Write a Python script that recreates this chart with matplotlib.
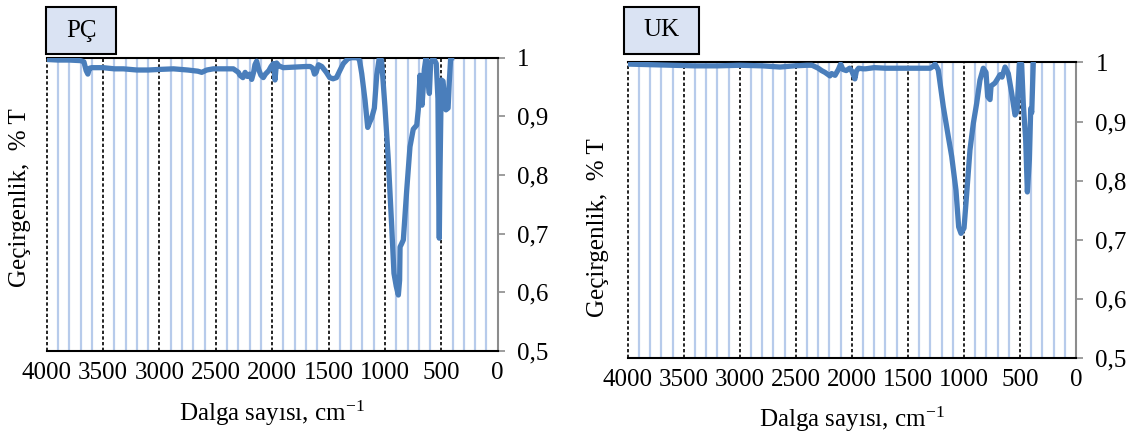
import matplotlib
matplotlib.use("Agg")
import matplotlib.pyplot as plt
from matplotlib.patches import Rectangle

# FTIR spectra
wn_pc = [4000, 3900, 3800, 3700, 3670, 3650, 3635, 3620, 3600, 3500, 3400, 3320,
         3200, 3100, 3000, 2876, 2750, 2660, 2625, 2580, 2522, 2400, 2345, 2300,
         2286, 2260, 2240, 2220, 2200, 2182, 2165, 2153, 2138, 2120, 2100, 2079,
         2060, 2030, 2010, 1990, 1980, 1975, 1968, 1961, 1940, 1902, 1800, 1700,
         1663, 1640, 1625, 1610, 1590, 1560, 1520, 1490, 1460, 1430, 1400, 1369,
         1330, 1300, 1240, 1225, 1206, 1177, 1153, 1135, 1118, 1094, 1073, 1050,
         1035, 1029, 1000, 970, 940, 920, 900, 881, 870, 866, 851, 837, 807, 778,
         749, 718, 704, 689, 680, 671, 660, 651, 636, 625, 606, 595, 571, 545,
         530, 522, 518, 512, 500, 485, 470, 459, 440, 429, 417, 408]
t_pc = [0.997, 0.996, 0.996, 0.995, 0.993, 0.978, 0.972, 0.982, 0.983, 0.983, 0.981, 0.981,
        0.979, 0.979, 0.980, 0.981, 0.979, 0.977, 0.975, 0.979, 0.981, 0.981, 0.981, 0.975,
        0.970, 0.966, 0.975, 0.968, 0.972, 0.963, 0.975, 0.988, 0.994, 0.980, 0.970, 0.966,
        0.972, 0.978, 0.985, 0.990, 0.975, 0.962, 0.978, 0.991, 0.986, 0.983, 0.984, 0.985,
        0.985, 0.982, 0.972, 0.975, 0.988, 0.985, 0.975, 0.966, 0.964, 0.966, 0.978, 0.990,
        0.998, 1.000, 1.000, 0.995, 0.973, 0.928, 0.881, 0.890, 0.897, 0.914, 0.970, 1.000,
        0.998, 0.993, 0.916, 0.825, 0.712, 0.632, 0.610, 0.595, 0.620, 0.677, 0.683, 0.689, 0.774, 0.848,
        0.878, 0.885, 0.912, 0.970, 0.940, 0.919, 0.950, 0.980, 1.000, 0.970, 0.939, 0.990, 1.000, 0.990,
        0.930, 0.750, 0.692, 0.800, 0.962, 0.960, 0.930, 0.911, 0.914, 0.960, 1.000, 1.000]

wn_uk = [4000, 3800, 3600, 3400, 3200, 3000, 2800, 2641, 2514, 2400, 2355, 2300,
         2270, 2240, 2210, 2196, 2180, 2150, 2120, 2100, 2080, 2050, 2020, 2000,
         1985, 1973, 1960, 1940, 1900, 1877, 1800, 1700, 1600, 1500, 1400, 1300,
         1276, 1258, 1229, 1184, 1139, 1109, 1071, 1047, 1026, 999, 975, 946,
         916, 886, 857, 827, 803, 788, 767, 758, 723, 700, 678, 660, 633, 604,
         574, 544, 526, 506, 485, 470, 449, 434, 416, 404, 395, 381]
t_uk = [0.997, 0.996, 0.995, 0.994, 0.994, 0.995, 0.994, 0.992, 0.994, 0.995, 0.995, 0.990,
        0.986, 0.983, 0.979, 0.977, 0.981, 0.978, 0.988, 0.997, 0.988, 0.986, 0.990, 0.985,
        0.978, 0.972, 0.985, 0.990, 0.989, 0.989, 0.991, 0.990, 0.990, 0.990, 0.990, 0.990,
        0.993, 0.997, 0.987, 0.925, 0.874, 0.841, 0.784, 0.722, 0.711, 0.720, 0.779, 0.852,
        0.897, 0.931, 0.970, 0.990, 0.983, 0.942, 0.937, 0.960, 0.965, 0.972, 0.979, 0.975, 0.992, 0.981,
        0.948, 0.911, 0.917, 0.997, 0.997, 0.929, 0.869, 0.781, 0.836, 0.922, 0.915, 1.000]

x_ticks = [4000, 3500, 3000, 2500, 2000, 1500, 1000, 500, 0]
y_ticks = [0.5, 0.6, 0.7, 0.8, 0.9, 1.0]
y_labels = ["0,5", "0,6", "0,7", "0,8", "0,9", "1"]

plt.rcParams["font.family"] = ["Liberation Serif", "DejaVu Serif"]
plt.rcParams["mathtext.fontset"] = "custom"
plt.rcParams["mathtext.rm"] = "Liberation Serif"
plt.rcParams["mathtext.it"] = "Liberation Serif:italic"

W, H = 1139, 436
FS = 18
fig = plt.figure(figsize=(W / 100, H / 100), dpi=100)


def panel(rect, wn, t, name, box, ylab_pos, xlab_pos):
    ax = fig.add_axes(rect)
    # light blue lines every 100 cm-1
    for v in range(100, 4000, 100):
        if v % 500:
            ax.axvline(v, color="#b7cbeb", lw=1.6, zorder=1)
    # dashed black lines every 500 cm-1
    for v in range(500, 4001, 500):
        ax.axvline(v, color="black", lw=1.2, ls=(0, (2, 1.4)), zorder=2,
                   clip_on=(v != 4000))
    ax.plot(wn, t, color="#4a7ebb", lw=3.8, zorder=3, solid_joinstyle="round")
    ax.set_xlim(4000, 0)
    ax.set_ylim(0.5, 1.0)
    ax.set_xticks(x_ticks)
    ax.set_xticklabels([str(v) for v in x_ticks])
    ax.yaxis.tick_right()
    ax.set_yticks(y_ticks)
    ax.set_yticklabels(y_labels)
    ax.tick_params(axis="x", length=0, pad=8, labelsize=FS)
    ax.tick_params(axis="y", direction="out", length=5, width=1.2,
                   color="#8c8c8c", pad=9, labelsize=FS)
    ax.spines["left"].set_visible(False)
    ax.spines["top"].set_linewidth(1.5)
    ax.spines["bottom"].set_linewidth(1.5)
    ax.spines["right"].set_color("#8c8c8c")
    ax.spines["right"].set_linewidth(1.5)

    bx, by, bw, bh = box
    fig.add_artist(Rectangle((bx / W, 1 - (by + bh) / H), bw / W, bh / H,
                             transform=fig.transFigure, facecolor="#dae3f3",
                             edgecolor="black", lw=1.5))
    fig.text((bx + bw / 2) / W, 1 - (by + bh / 2) / H, name,
             ha="center", va="center", fontsize=FS)
    fig.text(ylab_pos[0] / W, 1 - ylab_pos[1] / H, "Geçirgenlik,  % T",
             rotation=90, ha="center", va="center", fontsize=FS)
    fig.text(xlab_pos[0] / W, 1 - xlab_pos[1] / H,
             "Dalga sayısı, cm$^{-1}$", ha="center", va="center", fontsize=FS)
    return ax


panel([46.7 / W, 1 - 350.7 / H, 451 / W, 293 / H], wn_pc, t_pc, "PÇ",
      (46, 7, 70, 47), (20, 198), (272, 413))
panel([627.7 / W, 1 - 358.3 / H, 448.3 / W, 296 / H], wn_uk, t_uk, "UK",
      (624, 7, 75, 47), (598, 228), (852, 419))

fig.savefig("out.png", dpi=100)
